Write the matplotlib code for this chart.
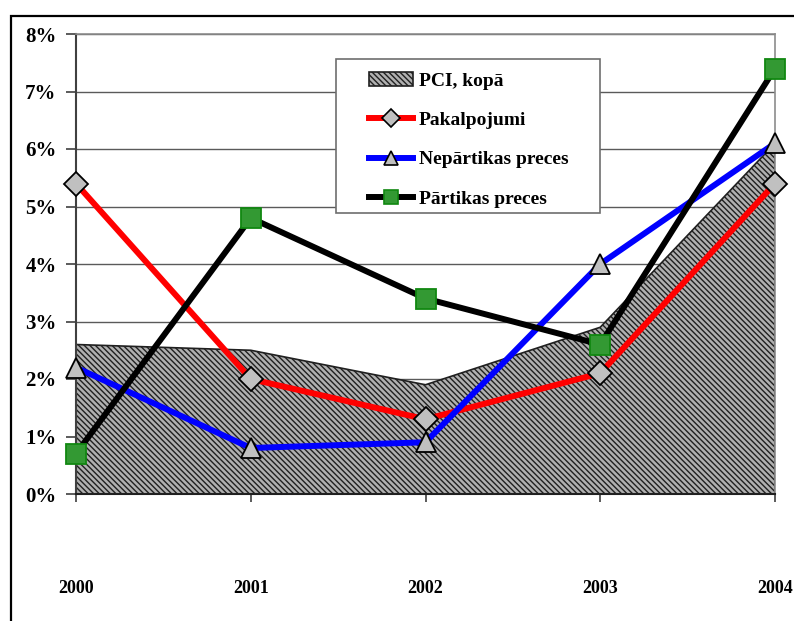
import matplotlib
matplotlib.use("Agg")
import matplotlib.pyplot as plt
from matplotlib.patches import Rectangle
from matplotlib.lines import Line2D
from matplotlib.patches import Patch

# dati (gada pieaugums, %)
gadi = ['2000', '2001', '2002', '2003', '2004']
pci_kopa = [2.6, 2.5, 1.9, 2.9, 6.1]
pakalpojumi = [5.4, 2.0, 1.3, 2.1, 5.4]
nepartikas = [2.2, 0.8, 0.9, 4.0, 6.1]
partikas = [0.7, 4.8, 3.4, 2.6, 7.4]

nosaukumi = ['PCI, kopā', 'Pakalpojumi', 'Nepārtikas preces', 'Pārtikas preces']

plt.rcParams['font.family'] = ['Liberation Serif', 'DejaVu Serif']
plt.rcParams['font.weight'] = 'bold'
plt.rcParams['hatch.linewidth'] = 1.0

svitras = '\\' * 6

W, H = 794, 621
fig = plt.figure(figsize=(W / 100, H / 100), dpi=100)
ax = fig.add_axes([76 / W, 1 - 494 / H, (775 - 76) / W, (494 - 34) / H])

x = list(range(len(gadi)))

#laukums ar svītrojumu
ax.fill_between(x, 0, pci_kopa, facecolor='#b0b0b0', edgecolor='#202020',
                hatch=svitras, linewidth=1.2, zorder=2)

ax.plot(x, pakalpojumi, color='#ff0000', lw=4.3, marker='D', ms=12,
        mfc='#c0c0c0', mec='black', mew=1.3, zorder=3, clip_on=False)
ax.plot(x, nepartikas, color='#0000ff', lw=4.3, marker='^', ms=15,
        mfc='#c0c0c0', mec='black', mew=1.3, zorder=4, clip_on=False)
ax.plot(x, partikas, color='black', lw=4.3, marker='s', ms=14,
        mfc='#339933', mec='#118811', mew=1.3, zorder=5, clip_on=False)

ax.set_xlim(0, 4)
ax.set_ylim(0, 8)
ax.set_yticks(range(0, 9))
ax.set_yticklabels([f'{v}%' for v in range(0, 9)], fontsize=15, fontweight='bold')
ax.set_xticks(x)
ax.set_xticklabels(gadi, fontsize=13, fontweight='bold')
ax.tick_params(axis='y', direction='out', length=7, width=1.2, pad=7, color='#404040')
ax.tick_params(axis='x', direction='out', length=6, width=1.2, pad=56, color='#404040')

ax.yaxis.grid(True, color='#5a5a5a', lw=1.0, zorder=1)
ax.set_axisbelow(True)
for s in ['top', 'right']:
    ax.spines[s].set_color('#8c8c8c')
    ax.spines[s].set_linewidth(1.2)
ax.spines['left'].set_color('#404040')
ax.spines['left'].set_linewidth(1.5)
ax.spines['bottom'].set_color('#202020')
ax.spines['bottom'].set_linewidth(1.5)
ax.spines['bottom'].set_zorder(6)

# ārējais rāmis (iziet ārpus attēla)
fig.add_artist(Rectangle((11 / W, -0.2), 2, 1.2 - 16 / H, transform=fig.transFigure,
                         fill=False, edgecolor='black', lw=1.6, zorder=0))

# leģenda
fig.add_artist(Rectangle((336 / W, 1 - 213 / H), (600 - 336) / W, (213 - 59) / H,
                         transform=fig.transFigure, facecolor='white',
                         edgecolor='#6e6e6e', lw=1.2, zorder=1))
rokturi = [
    Patch(facecolor='#b0b0b0', edgecolor='#202020', hatch=svitras, lw=1.2),
    Line2D([], [], color='#ff0000', lw=4.3, marker='D', ms=9, mfc='#c0c0c0', mec='black', mew=1.2),
    Line2D([], [], color='#0000ff', lw=4.3, marker='^', ms=10, mfc='#c0c0c0', mec='black', mew=1.2),
    Line2D([], [], color='black', lw=4.3, marker='s', ms=10, mfc='#339933', mec='#118811', mew=1.2),
]
leg = fig.legend(rokturi, nosaukumi, loc='upper left',
                 bbox_to_anchor=(369 / W, 1 - 72 / H), frameon=False,
                 borderpad=0, borderaxespad=0, handlelength=2.27, handletextpad=0.28,
                 labelspacing=1.12, prop={'size': 14, 'weight': 'bold'})
leg.set_zorder(2)

fig.savefig('out.png', dpi=100)
